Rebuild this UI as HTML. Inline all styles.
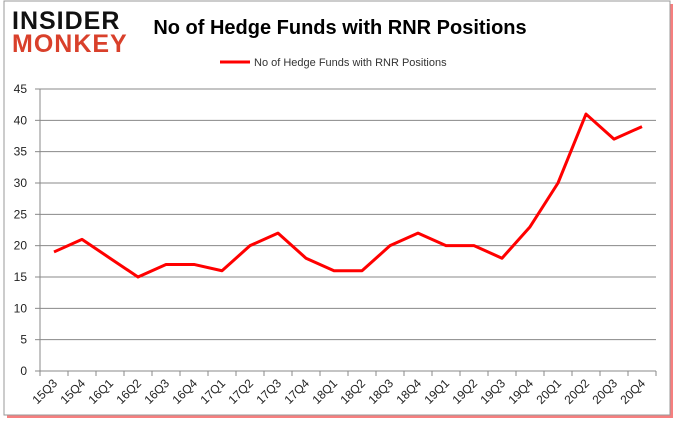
<!DOCTYPE html>
<html><head><meta charset="utf-8"><style>
body{margin:0;background:#fff;}
svg{display:block;font-family:"Liberation Sans",Calibri,sans-serif;}
</style></head><body>
<svg id="chart" width="678" height="431">
<rect x="7" y="4" width="666" height="414" fill="#e00" opacity="0.5"/>
<rect x="4" y="1" width="666" height="414" fill="#fff" stroke="#999" stroke-width="1"/>
<text x="12" y="29" font-size="25" font-weight="bold" fill="#111" style="letter-spacing:1px">INSIDER</text>
<text x="12" y="52" font-size="25" font-weight="bold" fill="#d9402b" style="letter-spacing:1px">MONKEY</text>
<text x="340" y="34" font-size="20" font-weight="bold" text-anchor="middle" fill="#000">No of Hedge Funds with RNR Positions</text>
<line x1="220" y1="62" x2="250" y2="62" stroke="#f00" stroke-width="3"/>
<text x="254" y="66" font-size="11" fill="#333">No of Hedge Funds with RNR Positions</text>
<g id="grid"></g><g id="axes"></g><g id="series"></g>
</svg>
<script>
const categories=["15Q3","15Q4","16Q1","16Q2","16Q3","16Q4","17Q1","17Q2","17Q3","17Q4","18Q1","18Q2","18Q3","18Q4","19Q1","19Q2","19Q3","19Q4","20Q1","20Q2","20Q3","20Q4"];
const values=[19,21,18,15,17,17,16,20,22,18,16,16,20,22,20,20,18,23,30,41,37,39];
const yTicks=[0,5,10,15,20,25,30,35,40,45];
const NS="http://www.w3.org/2000/svg";
const L=40,R=656,T=89,B=371,YMAX=45;
const step=(R-L)/categories.length;
const xS=i=>L+step*(i+0.5);
const yS=v=>B-(v/YMAX)*(B-T);
function mk(tag,attrs,parent,txt){const e=document.createElementNS(NS,tag);for(const k in attrs)e.setAttribute(k,attrs[k]);if(txt!==undefined)e.textContent=txt;document.getElementById(parent).appendChild(e);return e;}
yTicks.forEach(t=>{
  const y=yS(t);
  if(t>0){const g=mk("line",{x1:L,x2:R,y1:y,y2:y,stroke:"#888","stroke-width":1},"grid");
  
  }
  const tk=mk("line",{x1:L-5,x2:L,y1:y,y2:y,stroke:"#888"},"axes");
  
  
  const lb=mk("text",{x:L-13,y:y+4,"font-size":12,"text-anchor":"end",fill:"#222"},"axes",t);
  
  
});
const ya=mk("line",{x1:L,x2:L,y1:T,y2:B,stroke:"#888"},"axes");


const xa=mk("line",{x1:L,x2:R,y1:B,y2:B,stroke:"#888"},"axes");


for(let i=0;i<=categories.length;i++){
  const x=L+step*i;
  const tk=mk("line",{x1:x,x2:x,y1:B,y2:B+5,stroke:"#888"},"axes");
  
  
}
categories.forEach((c,i)=>{
  const x=xS(i)+4,y=B+13;
  const lb=mk("text",{x:x,y:y,"font-size":12,"text-anchor":"end",fill:"#222",transform:`rotate(-45 ${x} ${y})`},"axes",c);
  
  
});
const pts=values.map((v,i)=>xS(i)+","+yS(v)).join(" ");
const line=mk("polyline",{points:pts,fill:"none",stroke:"#f00","stroke-width":3,"stroke-linejoin":"round"},"series");


</script>
</body></html>
